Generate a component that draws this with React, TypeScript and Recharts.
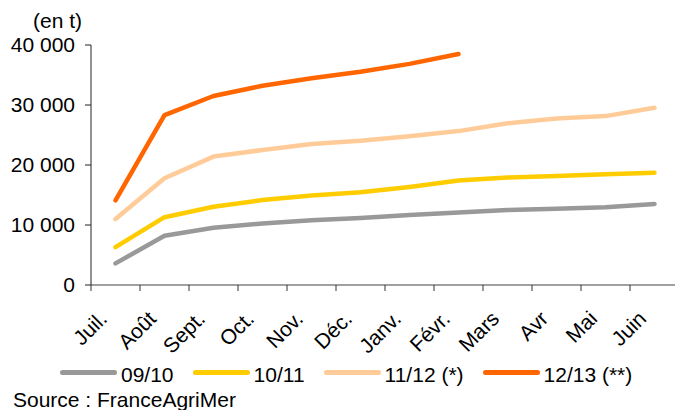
import React from 'react'
import { LineChart, Line, XAxis, YAxis } from 'recharts'

// monthly cumulative tonnage, campaign July -> June
const months = ['Juil.', 'Août', 'Sept.', 'Oct.', 'Nov.', 'Déc.', 'Janv.', 'Févr.', 'Mars', 'Avr', 'Mai', 'Juin']
const s0910 = [3600, 8200, 9550, 10250, 10800, 11150, 11650, 12100, 12500, 12700, 12950, 13500]
const s1011 = [6300, 11300, 13050, 14150, 14900, 15450, 16350, 17400, 17900, 18150, 18450, 18700]
const s1112 = [11000, 17800, 21400, 22500, 23500, 24050, 24800, 25650, 26950, 27750, 28150, 29550]
const s1213 = [14100, 28300, 31500, 33200, 34450, 35550, 36850, 38500, null, null, null, null]
const yTicks = [0, 10000, 20000, 30000, 40000]

const series = [
  { key: 's0910', name: '09/10', color: '#999999', values: s0910 },
  { key: 's1011', name: '10/11', color: '#FFCC00', values: s1011 },
  { key: 's1112', name: '11/12 (*)', color: '#FFCC99', values: s1112 },
  { key: 's1213', name: '12/13 (**)', color: '#FF6600', values: s1213 },
]

const data = months.map((month, i) => {
  const row: Record<string, string | number | null> = { month }
  series.forEach((s) => (row[s.key] = s.values[i]))
  return row
})

const W = 700
const H = 410
const MARGIN = { top: 45, right: 21, bottom: 0, left: 0 }
const Y_AXIS_W = 91
const FONT = '"Liberation Sans", Arial, sans-serif'
const halfBand = (W - MARGIN.left - MARGIN.right - Y_AXIS_W) / months.length / 2

const fmt = (v: number) => String(v).replace(/\B(?=(\d{3})+(?!\d))/g, ' ')

const MonthTick = (props: any) => {
  const { x, y, payload } = props
  const tx = x - 7
  const ty = y + 35
  return (
    <g>
      <line x1={x - halfBand} x2={x - halfBand} y1={y} y2={y + 6} stroke="#333" />
      <text
        x={tx}
        y={ty}
        transform={`rotate(-45 ${tx} ${ty})`}
        textAnchor="end"
        fontSize={21}
        fontFamily={FONT}
        fill="#000"
      >
        {payload.value}
      </text>
    </g>
  )
}

export default function App() {
  return (
    <div
      style={{
        position: 'absolute',
        left: 0,
        top: 0,
        width: 675,
        height: 410,
        overflow: 'hidden',
        background: '#fff',
        fontFamily: FONT,
      }}
    >
      <div style={{ position: 'absolute', left: 33, top: 10, fontSize: 21, lineHeight: '21px' }}>(en t)</div>
      <LineChart width={W} height={H} data={data} margin={MARGIN}>
        <XAxis
          dataKey="month"
          scale="band"
          interval={0}
          tickSize={0}
          tickMargin={0}
          tickLine={false}
          axisLine={{ stroke: '#808080', strokeWidth: 1.5 }}
          height={125}
          tick={<MonthTick />}
        />
        <YAxis
          width={Y_AXIS_W}
          domain={[0, 40000]}
          ticks={yTicks}
          interval={0}
          tickFormatter={fmt}
          tickSize={6}
          tickMargin={10}
          axisLine={{ stroke: '#222' }}
          tickLine={{ stroke: '#222' }}
          tick={{ fontSize: 21, fill: '#000', fontFamily: FONT }}
        />
        {series.map((s) => (
          <Line
            key={s.key}
            dataKey={s.key}
            name={s.name}
            type="linear"
            stroke={s.color}
            strokeWidth={4.5}
            strokeLinecap="round"
            strokeLinejoin="round"
            dot={false}
            activeDot={false}
            isAnimationActive={false}
          />
        ))}
      </LineChart>
      <div
        style={{
          position: 'absolute',
          left: 60,
          top: 364,
          display: 'flex',
          alignItems: 'flex-start',
          fontSize: 21,
          lineHeight: '21px',
          whiteSpace: 'nowrap',
        }}
      >
        {series.map((s) => (
          <div key={s.key} style={{ display: 'flex', alignItems: 'flex-start', marginRight: 19 }}>
            <div style={{ width: 57, height: 5, marginTop: 6, borderRadius: 3, background: s.color }} />
            <span style={{ marginLeft: 4 }}>{s.name}</span>
          </div>
        ))}
      </div>
      <div style={{ position: 'absolute', left: 13, top: 389, fontSize: 21, lineHeight: '21px' }}>
        Source : FranceAgriMer
      </div>
    </div>
  )
}
